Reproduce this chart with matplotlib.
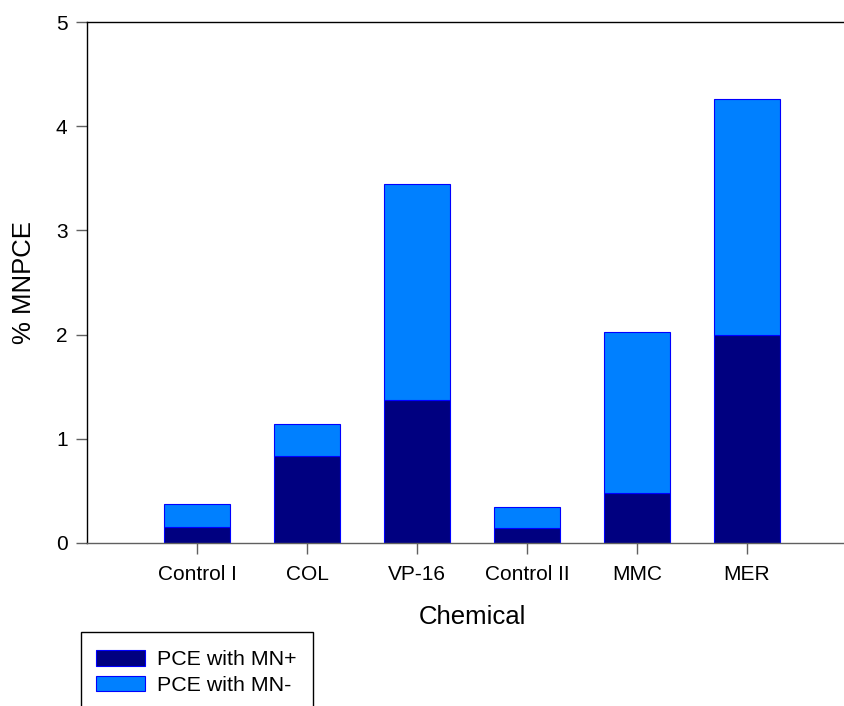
# Stacked bar chart of % MNPCE by chemical
import matplotlib.pyplot as plt
from matplotlib.patches import Rectangle

plt.rcParams["font.family"] = ["Liberation Sans", "DejaVu Sans"]

# Data
chemicals = ["Control I", "COL", "VP-16", "Control II", "MMC", "MER"]
mn_plus = [0.156, 0.834, 1.371, 0.144, 0.479, 1.994]
mn_total = [0.371, 1.141, 3.442, 0.342, 2.026, 4.264]
mn_minus = [t - p for t, p in zip(mn_total, mn_plus)]

x = list(range(1, len(chemicals) + 1))

fig = plt.figure(figsize=(8.45, 7.06), dpi=100)
ax = fig.add_axes([87 / 845, 163 / 706, 770 / 845, 521 / 706])

b1 = ax.bar(x, mn_plus, width=0.6, color="#000080", edgecolor="#0000FF",
            linewidth=0.8, label="PCE with MN+")
b2 = ax.bar(x, mn_minus, width=0.6, bottom=mn_plus, color="#0080FF",
            edgecolor="#0000FF", linewidth=0.8, label="PCE with MN-")

ax.set_xlim(0, 7)
ax.set_ylim(0, 5)
ax.set_xticks(x)
ax.set_xticklabels(chemicals)
ax.set_yticks([0, 1, 2, 3, 4, 5])

ax.tick_params(axis="both", labelsize=15, direction="out", length=8,
               width=1, color="#606060")
ax.tick_params(axis="x", pad=8)
ax.tick_params(axis="y", pad=6)

ax.spines["right"].set_visible(False)
ax.spines["left"].set_color("black")
ax.spines["top"].set_color("black")
ax.spines["bottom"].set_color("#606060")
for s in ax.spines.values():
    s.set_linewidth(1)

ax.set_xlabel("Chemical", fontsize=18.5, labelpad=15)
ax.set_ylabel("% MNPCE", fontsize=18.5, labelpad=14)

# Legend box (runs off the bottom of the figure, as in the original)
fig.patches.append(Rectangle((81 / 845, -0.05), 232 / 845, (706 - 632) / 706 + 0.05,
                             transform=fig.transFigure, fill=False,
                             edgecolor="black", linewidth=1))
fig.legend(handles=[b1, b2], loc="upper left",
           bbox_to_anchor=(96 / 845, (706 - 650) / 706),
           frameon=False, fontsize=15.4, handlelength=2.3, handleheight=0.75,
           handletextpad=0.55, labelspacing=0.3, borderpad=0, borderaxespad=0)

fig.savefig("out.png", dpi=100)
